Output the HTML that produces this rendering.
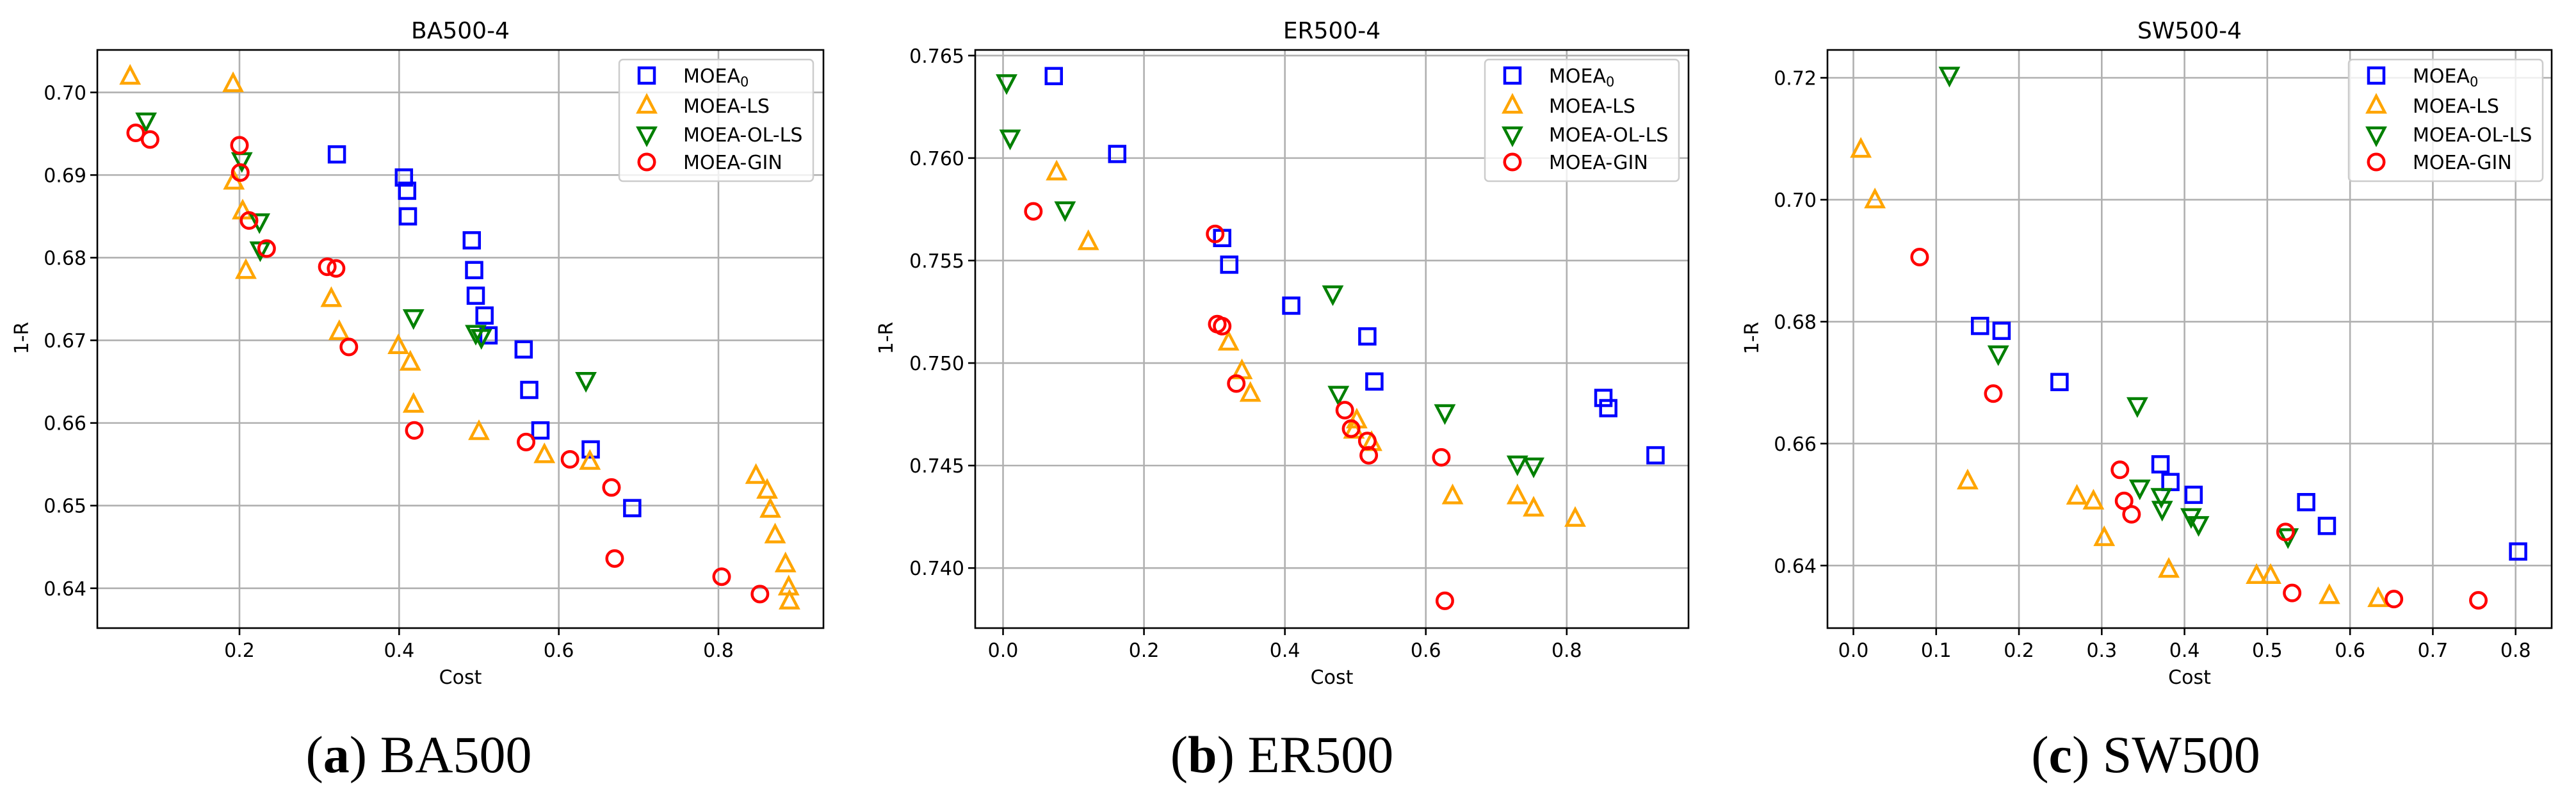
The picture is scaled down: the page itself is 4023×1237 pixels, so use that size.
<!DOCTYPE html>
<html><head><meta charset="utf-8"><style>
html,body{margin:0;padding:0;background:#fff;}
svg{display:block;font-family:"DejaVu Sans","Liberation Sans",sans-serif;}
</style></head><body>
<svg id="fig" width="4023" height="1237" viewBox="0 0 4023 1237" xmlns="http://www.w3.org/2000/svg"></svg>
<script>
// ---- Panel (a) BA500 data ----
const baM0x=[0.322,0.406,0.410,0.411,0.491,0.494,0.496,0.507,0.512,0.556,0.563,0.577,0.640,0.692];
const baM0y=[0.6925,0.6897,0.6881,0.6850,0.6821,0.6785,0.6754,0.6730,0.6706,0.6689,0.6640,0.6591,0.6568,0.6497];
const baLSx=[0.063,0.192,0.193,0.204,0.208,0.315,0.325,0.399,0.414,0.418,0.500,0.582,0.639,0.847,0.861,0.865,0.871,0.884,0.888,0.889];
const baLSy=[0.7019,0.7010,0.6892,0.6856,0.6784,0.6750,0.6710,0.6693,0.6673,0.6622,0.6589,0.6561,0.6553,0.6536,0.6518,0.6495,0.6464,0.6429,0.6401,0.6384];
const baOLx=[0.083,0.203,0.225,0.226,0.418,0.496,0.503,0.634];
const baOLy=[0.6966,0.6918,0.6844,0.6810,0.6728,0.6709,0.6704,0.6652];
const baGx=[0.070,0.088,0.200,0.201,0.212,0.234,0.310,0.321,0.337,0.419,0.559,0.614,0.666,0.670,0.804,0.852];
const baGy=[0.6951,0.6943,0.6936,0.6903,0.6845,0.6811,0.6789,0.6787,0.6692,0.6591,0.6577,0.6556,0.6522,0.6436,0.6414,0.6393];
const baXt=[0.2,0.4,0.6,0.8];
const baXl=["0.2","0.4","0.6","0.8"];
const baYt=[0.64,0.65,0.66,0.67,0.68,0.69,0.70];
const baYl=["0.64","0.65","0.66","0.67","0.68","0.69","0.70"];
// ---- Panel (b) ER500 data ----
const erM0x=[0.072,0.162,0.311,0.321,0.409,0.517,0.527,0.852,0.859,0.926];
const erM0y=[0.7640,0.7602,0.7561,0.7548,0.7528,0.7513,0.7491,0.7483,0.7478,0.7455];
const erLSx=[0.076,0.121,0.320,0.339,0.351,0.502,0.498,0.523,0.638,0.730,0.753,0.812];
const erLSy=[0.7593,0.7559,0.7510,0.7496,0.7485,0.7472,0.7467,0.7461,0.7435,0.7435,0.7429,0.7424];
const erOLx=[0.005,0.010,0.088,0.468,0.476,0.627,0.730,0.753];
const erOLy=[0.7637,0.7610,0.7575,0.7534,0.7485,0.7476,0.7451,0.7450];
const erGx=[0.043,0.301,0.304,0.311,0.331,0.485,0.494,0.517,0.519,0.622,0.627];
const erGy=[0.7574,0.7563,0.7519,0.7518,0.7490,0.7477,0.7468,0.7462,0.7455,0.7454,0.7384];
const erXt=[0.0,0.2,0.4,0.6,0.8];
const erXl=["0.0","0.2","0.4","0.6","0.8"];
const erYt=[0.740,0.745,0.750,0.755,0.760,0.765];
const erYl=["0.740","0.745","0.750","0.755","0.760","0.765"];
// ---- Panel (c) SW500 data ----
const swM0x=[0.153,0.179,0.249,0.371,0.383,0.411,0.547,0.572,0.803];
const swM0y=[0.6793,0.6785,0.6701,0.6566,0.6537,0.6516,0.6504,0.6465,0.6423];
const swLSx=[0.009,0.026,0.138,0.270,0.290,0.303,0.381,0.487,0.504,0.575,0.634];
const swLSy=[0.7082,0.6999,0.6538,0.6513,0.6505,0.6445,0.6393,0.6383,0.6383,0.6350,0.6345];
const swOLx=[0.116,0.175,0.343,0.346,0.372,0.373,0.408,0.417,0.525];
const swOLy=[0.7205,0.6748,0.6663,0.6528,0.6514,0.6493,0.6481,0.6468,0.6448];
const swGx=[0.080,0.169,0.322,0.327,0.336,0.522,0.530,0.653,0.755];
const swGy=[0.6906,0.6682,0.6557,0.6506,0.6484,0.6455,0.6355,0.6345,0.6343];
const swXt=[0.0,0.1,0.2,0.3,0.4,0.5,0.6,0.7,0.8];
const swXl=["0.0","0.1","0.2","0.3","0.4","0.5","0.6","0.7","0.8"];
const swYt=[0.64,0.66,0.68,0.70,0.72];
const swYl=["0.64","0.66","0.68","0.70","0.72"];

const NS="http://www.w3.org/2000/svg";
const svg=document.getElementById('fig');
function mk(tag,attrs,parent){const e=document.createElementNS(NS,tag);for(const k in attrs)e.setAttribute(k,attrs[k]);(parent||svg).appendChild(e);return e;}

const panels=[
 {key:'ba',title:'BA500-4',cap:'a',capName:'BA500',L:152,R:1286,T:78,B:981,xa:[0.2,374],xb:[0.8,1122],ya:[0.70,144.3],yb:[0.64,918.8],ylx:34,capx:654,legL:967,
  xt:baXt,xl:baXl,yt:baYt,yl:baYl,s:[[baM0x,baM0y],[baLSx,baLSy],[baOLx,baOLy],[baGx,baGy]]},
 {key:'er',title:'ER500-4',cap:'b',capName:'ER500',L:1523,R:2637,T:78,B:981,xa:[0.0,1566.5],xb:[0.8,2446.8],ya:[0.765,86.8],yb:[0.740,887.2],ylx:1384,capx:2002,legL:2319,
  xt:erXt,xl:erXl,yt:erYt,yl:erYl,s:[[erM0x,erM0y],[erLSx,erLSy],[erOLx,erOLy],[erGx,erGy]]},
 {key:'sw',title:'SW500-4',cap:'c',capName:'SW500',L:2854,R:3985,T:78,B:981,xa:[0.0,2894.5],xb:[0.8,3928.7],ya:[0.72,121.5],yb:[0.64,883.3],ylx:2736,capx:3351,legL:3668,
  xt:swXt,xl:swXl,yt:swYt,yl:swYl,s:[[swM0x,swM0y],[swLSx,swLSy],[swOLx,swOLy],[swGx,swGy]]}
];
const colors=['#0000ff','#ffa500','#008000','#ff0000'];
const names=['moea0','moea-ls','moea-ol-ls','moea-gin'];
const labels=['MOEA','MOEA-LS','MOEA-OL-LS','MOEA-GIN'];

function marker(g,k,cx,cy,r){
  let e;
  if(k===0){e=mk('rect',{x:cx-r,y:cy-r,width:2*r,height:2*r,fill:'none',stroke:colors[k],'stroke-width':4.5},g);}
  else if(k===1){e=mk('polygon',{points:`${cx},${cy-r*1.25} ${cx-r*1.1},${cy+r*0.85} ${cx+r*1.1},${cy+r*0.85}`,fill:'none',stroke:colors[k],'stroke-width':4.5,'stroke-linejoin':'miter'},g);}
  else if(k===2){e=mk('polygon',{points:`${cx},${cy+r*1.25} ${cx-r*1.1},${cy-r*0.85} ${cx+r*1.1},${cy-r*0.85}`,fill:'none',stroke:colors[k],'stroke-width':4.5},g);}
  else {e=mk('circle',{cx:cx,cy:cy,r:r*1.02,fill:'none',stroke:colors[k],'stroke-width':4.5},g);}
  return e;
}

panels.forEach(p=>{
  const sx=v=>p.xa[1]+(v-p.xa[0])*(p.xb[1]-p.xa[1])/(p.xb[0]-p.xa[0]);
  const sy=v=>p.ya[1]+(v-p.ya[0])*(p.yb[1]-p.ya[1])/(p.yb[0]-p.ya[0]);
  const g=mk('g',{});
  
  
  // grid
  p.xt.forEach((v,i)=>{
    const x=sx(v);
    const gl=mk('line',{x1:x,x2:x,y1:p.T,y2:p.B,stroke:'#b0b0b0','stroke-width':2.6},g);
    
    
    mk('line',{x1:x,x2:x,y1:p.B,y2:p.B+11,stroke:'#000','stroke-width':2.6},g);
    const t=mk('text',{x:x,y:p.B+45,'text-anchor':'middle','font-size':30,fill:'#000'},g);
    t.textContent=p.xl[i];
    
    
  });
  p.yt.forEach((v,i)=>{
    const y=sy(v);
    const gl=mk('line',{x1:p.L,x2:p.R,y1:y,y2:y,stroke:'#b0b0b0','stroke-width':2.6},g);
    
    
    mk('line',{x1:p.L-11,x2:p.L,y1:y,y2:y,stroke:'#000','stroke-width':2.6},g);
    const t=mk('text',{x:p.L-17,y:y+11,'text-anchor':'end','font-size':30,fill:'#000'},g);
    t.textContent=p.yl[i];
    
    
  });
  // series
  p.s.forEach((ser,k)=>{
    const sg=mk('g',{},g);
    
    
    ser[0].forEach((xv,i)=>{
      const m=marker(sg,k,sx(xv),sy(ser[1][i]),12);
      
      
    });
  });
  // frame
  const fr=mk('rect',{x:p.L,y:p.T,width:p.R-p.L,height:p.B-p.T,fill:'none',stroke:'#000','stroke-width':2.6},g);
  
  
  // title
  const ti=mk('text',{x:(p.L+p.R)/2,y:60,'text-anchor':'middle','font-size':36,fill:'#000'},g);
  ti.textContent=p.title;
  
  
  const xl=mk('text',{x:(p.L+p.R)/2,y:1068,'text-anchor':'middle','font-size':30,fill:'#000'},g);
  xl.textContent='Cost';
  
  
  const yl=mk('text',{x:0,y:0,'text-anchor':'middle','font-size':30,fill:'#000',transform:`translate(${p.ylx+10},528) rotate(-90)`},g);
  yl.textContent='1-R';
  
  
  // legend
  const lg=mk('g',{},g);
  
  
  mk('rect',{x:p.legL,y:93,width:303,height:190,rx:6,fill:'#fff','fill-opacity':0.8,stroke:'#cccccc','stroke-width':2.5},lg);
  const rows=[118,165,210,253];
  labels.forEach((lab,k)=>{
    const m=marker(lg,k,p.legL+43,rows[k],12);
    
    
    const t=mk('text',{x:p.legL+100,y:rows[k]+11,'font-size':30,fill:'#000'},lg);
    t.textContent=lab;
    if(k===0){const sub=mk('tspan',{'font-size':21,dy:6},t);sub.textContent='0';}
    
    
  });
  // caption
  const c=mk('text',{x:p.capx,y:1206,'text-anchor':'middle','font-size':82,fill:'#000','font-family':'"Liberation Serif",serif'},svg);
  const a=mk('tspan',{},c);a.textContent='(';
  const b=mk('tspan',{'font-weight':'bold'},c);b.textContent=p.cap;
  const d=mk('tspan',{},c);d.textContent=') '+p.capName;
  
  
});
</script>
</body></html>
